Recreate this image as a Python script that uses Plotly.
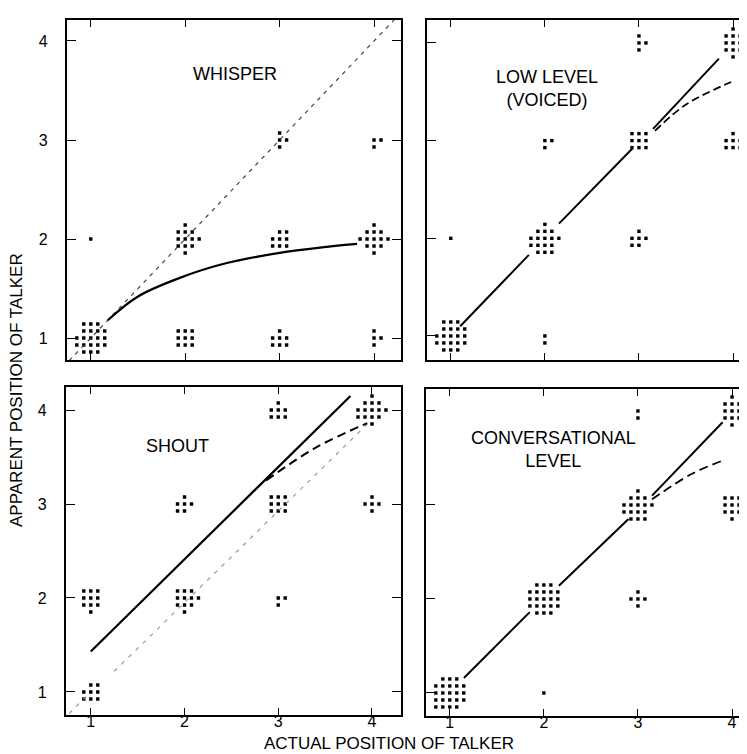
import math
import plotly.graph_objects as go

W, H = 747, 754

# ---------------- data ----------------
positions = [1, 2, 3, 4]
tick_labels = ["1", "2", "3", "4"]
panel_titles = ["WHISPER", "LOW LEVEL<br>(VOICED)", "SHOUT", "CONVERSATIONAL<br>LEVEL"]

# response counts: (actual, apparent, count)
whisper_counts = [(1, 1, 20), (2, 1, 9), (3, 1, 7), (4, 1, 4), (1, 2, 1), (2, 2, 12),
                  (3, 2, 8), (4, 2, 13), (3, 3, 4), (4, 3, 3)]
low_counts = [(1, 1, 20), (2, 1, 2), (1, 2, 1), (2, 2, 16), (3, 2, 6), (2, 3, 3),
              (3, 3, 9), (4, 3, 7), (3, 4, 4), (4, 4, 12)]
shout_counts = [(1, 1, 8), (1, 2, 10), (2, 2, 11), (3, 2, 3), (2, 3, 6), (3, 3, 9),
                (4, 3, 5), (3, 4, 7), (4, 4, 14)]
conv_counts = [(1, 1, 22), (2, 1, 1), (2, 2, 21), (3, 2, 5), (3, 3, 16), (4, 3, 10),
               (3, 4, 2), (4, 4, 12)]

# curves
whisper_fit_x = [1.18, 1.5, 1.95, 2.37, 3.0, 3.5, 3.82]
whisper_fit_y = [1.18, 1.42, 1.61, 1.74, 1.86, 1.92, 1.95]
whisper_ideal_x = [0.77, 4.28]
whisper_ideal_y = [0.77, 4.28]

low_fit_x = [1.1, 1.83, None, 2.15, 2.93, None, 3.15, 3.85]
low_fit_y = [1.1, 1.83, None, 2.15, 2.92, None, 3.12, 3.84]
low_alt_x = [3.17, 3.5, 3.98]
low_alt_y = [3.1, 3.37, 3.6]

shout_fit_x = [1.0, 3.77]
shout_fit_y = [1.43, 4.15]
shout_alt_x = [2.87, 3.4, 3.95]
shout_alt_y = [3.25, 3.6, 3.86]
shout_ideal_x = [0.77, 0.98, None, 1.25, 3.95]
shout_ideal_y = [0.77, 0.98, None, 1.22, 3.85]

conv_fit_x = [1.15, 1.85, None, 2.16, 2.9, None, 3.15, 3.9]
conv_fit_y = [1.16, 1.86, None, 2.14, 2.85, None, 3.1, 3.88]
conv_alt_x = [3.15, 3.57, 3.92]
conv_alt_y = [3.06, 3.33, 3.48]

# ---------------- layout geometry (pixels) ----------------
panels = [
    dict(px=(59, 394), py=(12, 352), xr=(0.7465, 4.285), yr=(0.778, 4.212)),
    dict(px=(420, 747), py=(12, 352), xr=(0.746, 4.212), yr=(0.754, 4.235)),
    dict(px=(58, 394), py=(379, 707), xr=(0.734, 4.309), yr=(0.755, 4.245)),
    dict(px=(419, 747), py=(381, 708), xr=(0.746, 4.223), yr=(0.755, 4.234)),
]

fig = go.Figure()


def cluster_offsets(n):
    pts = [(i, j) for i in range(-4, 5) for j in range(-4, 5)]
    pts.sort(key=lambda p: (p[0] ** 2 + p[1] ** 2, math.atan2(p[1], p[0])))
    return pts[:n]


DOT_SP = 7.0  # px spacing between dots

counts_all = [whisper_counts, low_counts, shout_counts, conv_counts]

for k, (p, counts) in enumerate(zip(panels, counts_all)):
    ax = "" if k == 0 else str(k + 1)
    xref, yref = "x" + ax, "y" + ax
    ppx = (p["px"][1] - p["px"][0]) / (p["xr"][1] - p["xr"][0])
    ppy = (p["py"][1] - p["py"][0]) / (p["yr"][1] - p["yr"][0])
    xs, ys = [], []
    for (a, b, n) in counts:
        for (i, j) in cluster_offsets(n):
            xs.append(a + i * DOT_SP / ppx)
            ys.append(b + j * DOT_SP / ppy)
    fig.add_trace(go.Scatter(x=xs, y=ys, mode="markers", xaxis=xref, yaxis=yref,
                             marker=dict(size=3.4, color="black", symbol="square"),
                             showlegend=False, hoverinfo="skip"))


def add_line(x, y, k, width=2, dash="solid", color="black", shape="linear"):
    ax = "" if k == 0 else str(k + 1)
    fig.add_trace(go.Scatter(x=x, y=y, mode="lines", xaxis="x" + ax, yaxis="y" + ax,
                             line=dict(color=color, width=width, dash=dash, shape=shape),
                             showlegend=False, hoverinfo="skip", connectgaps=False))


add_line(whisper_ideal_x, whisper_ideal_y, 0, width=1.2, dash="4px,5px", color="#444")
add_line(whisper_fit_x, whisper_fit_y, 0, width=2.2, shape="spline")
add_line(low_fit_x, low_fit_y, 1, width=2)
add_line(low_alt_x, low_alt_y, 1, width=1.8, dash="8px,4px", shape="spline")
add_line(shout_ideal_x, shout_ideal_y, 2, width=1.2, dash="4px,6px", color="#999")
add_line(shout_fit_x, shout_fit_y, 2, width=2.2)
add_line(shout_alt_x, shout_alt_y, 2, width=2, dash="9px,5px", shape="spline")
add_line(conv_fit_x, conv_fit_y, 3, width=2)
add_line(conv_alt_x, conv_alt_y, 3, width=1.8, dash="9px,5px", shape="spline")

FONT = "Liberation Sans, Arial, sans-serif"
lay = dict(width=W, height=H, margin=dict(l=0, r=0, t=0, b=0),
           paper_bgcolor="white", plot_bgcolor="white", showlegend=False,
           font=dict(family=FONT, size=15, color="black"))

for k, p in enumerate(panels):
    ax = "" if k == 0 else str(k + 1)
    xd = [p["px"][0] / W, min(p["px"][1] / W, 1.0)]
    yd = [1 - p["py"][1] / H, 1 - p["py"][0] / H]
    lay["xaxis" + ax] = dict(domain=xd, range=list(p["xr"]), anchor="y" + ax,
                             tickvals=positions, ticktext=tick_labels,
                             showticklabels=(k >= 2), ticks="inside", ticklen=7,
                             tickwidth=1.3, tickcolor="black",
                             showline=True, linewidth=2, linecolor="black",
                             mirror="allticks", showgrid=False, zeroline=False,
                             ticklabelstandoff=-9,
                             tickfont=dict(size=16, color="black"))
    lay["yaxis" + ax] = dict(domain=yd, range=list(p["yr"]), anchor="x" + ax,
                             tickvals=positions, ticktext=tick_labels,
                             showticklabels=(k % 2 == 0), ticks="inside", ticklen=9,
                             tickwidth=1.3, tickcolor="black",
                             showline=True, linewidth=2, linecolor="black",
                             mirror="allticks", showgrid=False, zeroline=False,
                             ticklabelstandoff=14,
                             tickfont=dict(size=16, color="black"))

fig.update_layout(**lay)

title_pos = [(228, 66), (540, 80), (170, 438), (547, 441)]
for (tx, ty), t in zip(title_pos, panel_titles):
    fig.add_annotation(x=tx / W, y=1 - ty / H, xref="paper", yref="paper",
                       text=t, showarrow=False, xanchor="center", yanchor="middle",
                       font=dict(size=18, color="black", family=FONT))

fig.add_annotation(x=382 / W, y=1 - 735 / H, xref="paper", yref="paper",
                   text="ACTUAL POSITION OF TALKER", showarrow=False,
                   xanchor="center", yanchor="middle",
                   font=dict(size=17, color="black", family=FONT))
fig.add_annotation(x=9 / W, y=1 - 382 / H, xref="paper", yref="paper",
                   text="APPARENT POSITION OF TALKER", showarrow=False, textangle=-90,
                   xanchor="center", yanchor="middle",
                   font=dict(size=17, color="black", family=FONT))

fig.write_html("out.html")
